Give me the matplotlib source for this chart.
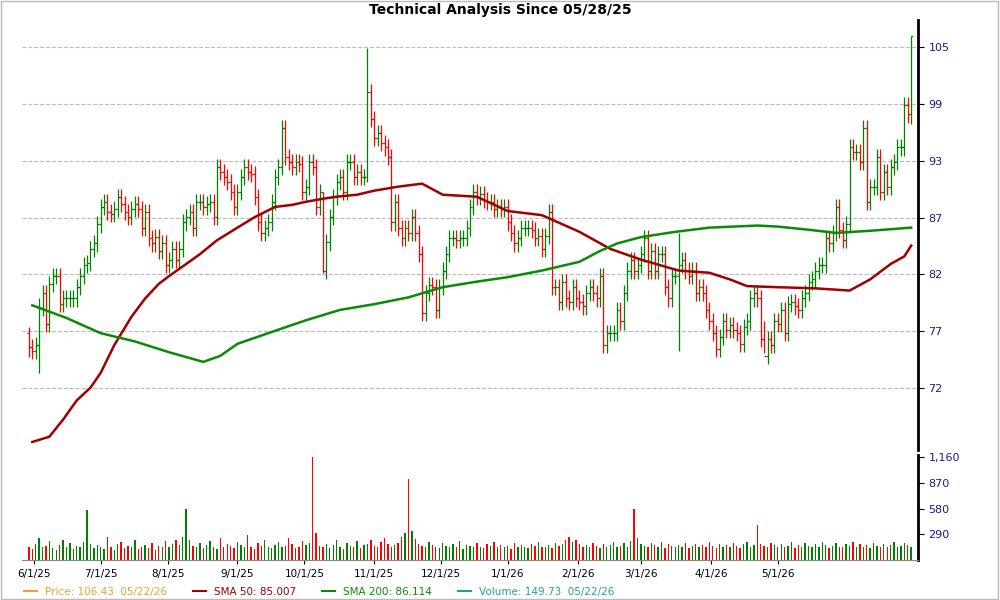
import numpy as np
import matplotlib.pyplot as plt
from matplotlib.lines import Line2D
from matplotlib.patches import Rectangle

# daily closes read left to right off the chart
closes = [
    75.3, 75, 75.5, 78.7, 80, 77.3, 80.8, 81.5, 81.5, 79,
    79.5, 79.5, 79.5, 79.5, 80.5, 81.5, 82.5, 82.7, 84, 84.5,
    86.3, 88, 88.5, 87.5, 87.3, 87.8, 89, 88.3, 87.5, 87,
    87.8, 88.3, 87.8, 86, 87.5, 85, 84.5,
    85.1, 83.8, 84.5, 82.5, 83, 84, 83, 84, 86.5, 87,
    87.5, 86, 88.5, 88.5, 88, 88.3, 88.5, 87, 92, 91.5,
    91, 90.5, 89.5, 88, 89.5, 91, 92, 91.5, 91.3, 89,
    86.5, 85.5, 86, 86.5, 88.5, 91, 92, 96, 93, 92.5, 92,
    92.5, 92.3, 89.5, 90, 92.5, 92, 88, 89.5, 82, 84.6,
    87, 89, 90.5, 91, 89.5, 92.5, 92.5, 91, 91.5, 91,
    91, 100, 97, 95, 95.5, 94.5, 94, 93, 86.5, 88.5,
    86, 85, 86, 85.5, 87, 85.5, 83.5, 78.2, 80, 80.7,
    80.5, 78.5, 80.5, 82, 83.5, 85,
    85, 84.8, 85, 85, 86, 88, 89.5, 89, 89.3, 88.7,
    88.5, 88.5, 87.8, 88, 87.8, 88, 86.5, 85.5, 84.5, 85,
    86, 86, 86, 85.8, 85, 85.2, 84, 85.2, 87.5, 80.5,
    80.5, 79.2, 81, 79.5, 79.2, 80.5, 79.5, 79.2, 78.8, 80,
    80.5, 80, 79.5, 81.5,
    75.5, 76.5, 76.5, 76.5, 78.5, 77.5, 80, 82, 83, 82,
    82.5, 83.5, 85, 82, 83.8, 82, 83.5, 83.5, 80.5, 79.5,
    81.5, 81.5, 82.5, 83, 82, 81.5, 82, 80, 80.5, 80,
    78.5, 77.5, 76.5, 75.2, 76.2, 77.5, 76.8, 77.2, 76.8, 76.5,
    75.6, 77, 77.5, 79.5, 80, 79.5, 76,
    74.6, 76, 75.5, 77.5, 77.3, 78.5, 76.5, 79, 79.2, 78.8,
    78.5, 79.5, 80, 81, 81.2, 82, 82.5, 82.5, 85, 84.5,
    85.5, 88, 85.8, 84.8, 86.3, 94, 93.5, 93.5, 92.5, 96,
    88.5, 90, 90, 93, 89.5, 91.5, 90, 92, 92.5, 94,
    94, 98.5, 97.5, 106.4,
]
# a few long wicks: (bar index, high, low)
wicks = [(99, 105.0, 90.5), (86, 89.5, 81.8), (0, 77.0, 74.5), (3, 79.5, 73.2),
         (190, 85.5, 75.0), (215, 77.5, 74.8), (258, 106.4, 96.5)]

volume = [
    150, 120, 180, 250, 140, 160, 210, 130, 110, 170, 230, 150, 190, 120, 160, 140, 200, 560, 180, 130,
    170, 140, 120, 260, 150, 110, 180, 200, 130, 160, 140, 220, 120, 150, 170, 130, 190, 110, 160, 140,
    210, 150, 180, 230, 170, 260, 580, 220, 160, 140, 190, 130, 170, 210, 150, 120, 250, 140, 180, 160,
    130, 200, 170, 150, 280, 140, 120, 190, 160, 230, 150, 130, 170, 200, 140, 160, 250, 180, 130, 150,
    210, 170, 190, 1160, 300, 160, 140, 180, 130, 170, 220, 150, 120, 190, 160, 140, 210, 130, 170, 180,
    230, 160, 140, 200, 250, 180, 150, 170, 190, 260, 300, 920, 330, 240, 180, 160, 140, 200, 170, 150,
    130, 190, 160, 140, 180, 150, 210, 120, 170, 160, 140, 190, 150, 130, 180, 160, 200, 140, 170, 150,
    160, 120, 190, 140, 170, 150, 130, 180, 160, 200, 140, 150, 170, 130, 190, 160, 180, 220, 260, 200,
    230, 180, 150, 170, 140, 190, 160, 130, 180, 150, 170, 200, 140, 160, 190, 150, 210, 580, 250, 180,
    160, 140, 190, 170, 150, 200, 130, 180, 160, 140, 170, 150, 190, 130, 160, 180, 140, 170, 150, 200,
    160, 130, 180, 150, 170, 140, 190, 160, 130, 180, 200, 150, 170, 390, 180, 160, 140, 190, 170, 150,
    180, 140, 160, 200, 130, 170, 150, 190, 160, 140, 180, 150, 200, 170, 130, 160, 190, 150, 140, 180,
    160, 200, 140, 180, 150, 170, 130, 190, 160, 140, 180, 150, 170, 200, 140, 160, 190, 170, 150,
]

# moving averages sampled off the chart (bar index, value)
sma50_idx = [1, 6, 10, 14, 18, 21, 25, 30, 34, 38, 41, 46, 50, 55, 61, 66, 72, 77, 81, 86, 90, 96,
             101, 108, 115, 121, 131, 140, 150, 161, 170, 179, 190, 199, 205, 210, 219, 230, 240,
             246, 252, 256, 258]
sma50_val = [67.8, 68.2, 69.5, 71.0, 72.0, 73.2, 75.5, 77.9, 79.5, 80.8, 81.5, 82.6, 83.5, 84.8, 86.0,
             87.0, 88.0, 88.2, 88.5, 88.8, 89.0, 89.2, 89.6, 90.0, 90.3, 89.2, 89.0, 87.6, 87.2, 85.6,
             84.0, 83.0, 82.0, 81.8, 81.2, 80.6, 80.5, 80.4, 80.2, 81.2, 82.6, 83.3, 84.3]
sma200_idx = [1, 11, 21, 31, 41, 51, 56, 61, 71, 81, 91, 101, 111, 121, 131, 140, 150, 161, 167, 172,
              179, 189, 199, 213, 219, 228, 236, 246, 258]
sma200_val = [78.9, 77.8, 76.5, 75.8, 74.9, 74.1, 74.6, 75.6, 76.6, 77.6, 78.5, 79.0, 79.6, 80.5, 81.0,
              81.4, 82.0, 82.8, 83.8, 84.5, 85.1, 85.6, 86.0, 86.2, 86.1, 85.8, 85.5, 85.7, 86.0]

tick_labels = ['6/1/25', '7/1/25', '8/1/25', '9/1/25', '10/1/25', '11/1/25', '12/1/25',
               '1/1/26', '2/1/26', '3/1/26', '4/1/26', '5/1/26']
tick_pos = [1.5, 21, 40.8, 61, 80.6, 100.9, 120.5, 140, 160.7, 179, 199.4, 219]

price_ticks = [72 * 1.065 ** k for k in range(7)]
price_labels = ['72', '77', '82', '87', '93', '99', '105']
vol_ticks = [290, 580, 870, 1160]

n = len(closes)
x = np.arange(n)
c = np.array(closes)
o = np.concatenate([[76.5], c[:-1]])
hi = np.maximum(o, c) * 1.009
lo = np.minimum(o, c) * 0.991
for i, h, l in wicks:
    hi[i], lo[i] = h, l
up = c >= o
cols = np.where(up, '#008000', '#ff0000')

fig = plt.figure(figsize=(10, 6), dpi=100)
fig.patches.append(Rectangle((0.001, 0.001), 0.997, 0.997, transform=fig.transFigure,
                             fill=False, edgecolor='#bbbbbb', lw=1))
ax = fig.add_axes([0.022, 0.25, 0.896, 0.717])
axv = fig.add_axes([0.022, 0.067, 0.896, 0.175], sharex=ax)

ax.vlines(x, lo, hi, colors=cols, lw=0.9)
ax.hlines(o, x - 0.55, x, colors=cols, lw=0.9)
ax.hlines(c, x, x + 0.55, colors=cols, lw=0.9)
ax.plot(sma50_idx, sma50_val, color='#a00000', lw=1.8)
ax.plot(sma200_idx, sma200_val, color='#0a8a0a', lw=1.8)

ax.set_yscale('log')
ax.set_ylim(67.2, 108.3)
ax.set_yticks(price_ticks)
ax.set_yticklabels(price_labels)
ax.minorticks_off()
ax.yaxis.tick_right()
ax.tick_params(axis='y', colors='#1a1a8c', labelsize=8, length=4)
ax.tick_params(axis='y', color='black')
ax.tick_params(axis='x', bottom=False, labelbottom=False)
ax.grid(axis='y', color='#bbbbbb', ls='--', lw=0.8)
for s in ['top', 'left', 'bottom']:
    ax.spines[s].set_visible(False)
ax.spines['right'].set_linewidth(2)
ax.set_xlim(-2, 260)

vc = cols[:len(volume)]
axv.bar(x[:len(volume)], volume, width=0.4, color=vc)
axv.set_ylim(0, 1190)
axv.set_yticks(vol_ticks)
axv.set_yticklabels(['290', '580', '870', '1,160'])
axv.yaxis.tick_right()
axv.tick_params(axis='y', colors='#1a1a8c', labelsize=8, length=4)
axv.tick_params(axis='y', color='black')
for s in ['top', 'left']:
    axv.spines[s].set_visible(False)
axv.spines['right'].set_linewidth(2)
axv.spines['bottom'].set_color('#888888')
axv.set_xticks(tick_pos)
axv.set_xticklabels(tick_labels, fontsize=7.5)
axv.tick_params(axis='x', length=3)

fig.suptitle('Technical Analysis Since 05/28/25', y=0.995, fontsize=10, fontweight='bold')

items = [('Price: 106.43  05/22/26', '#f0a030'), ('SMA 50: 85.007', '#a00000'),
         ('SMA 200: 86.114', '#0a8a0a'), ('Volume: 149.73  05/22/26', '#20a0a0')]
handles = [Line2D([], [], color=col, lw=1.5) for _, col in items]
leg = fig.legend(handles, [t for t, _ in items], loc='lower left', bbox_to_anchor=(0.015, -0.01),
                 ncol=4, frameon=False, fontsize=7.5, handlelength=1.2, columnspacing=2.5)
for t, (_, col) in zip(leg.get_texts(), items):
    t.set_color(col)

fig.savefig('out.png')
